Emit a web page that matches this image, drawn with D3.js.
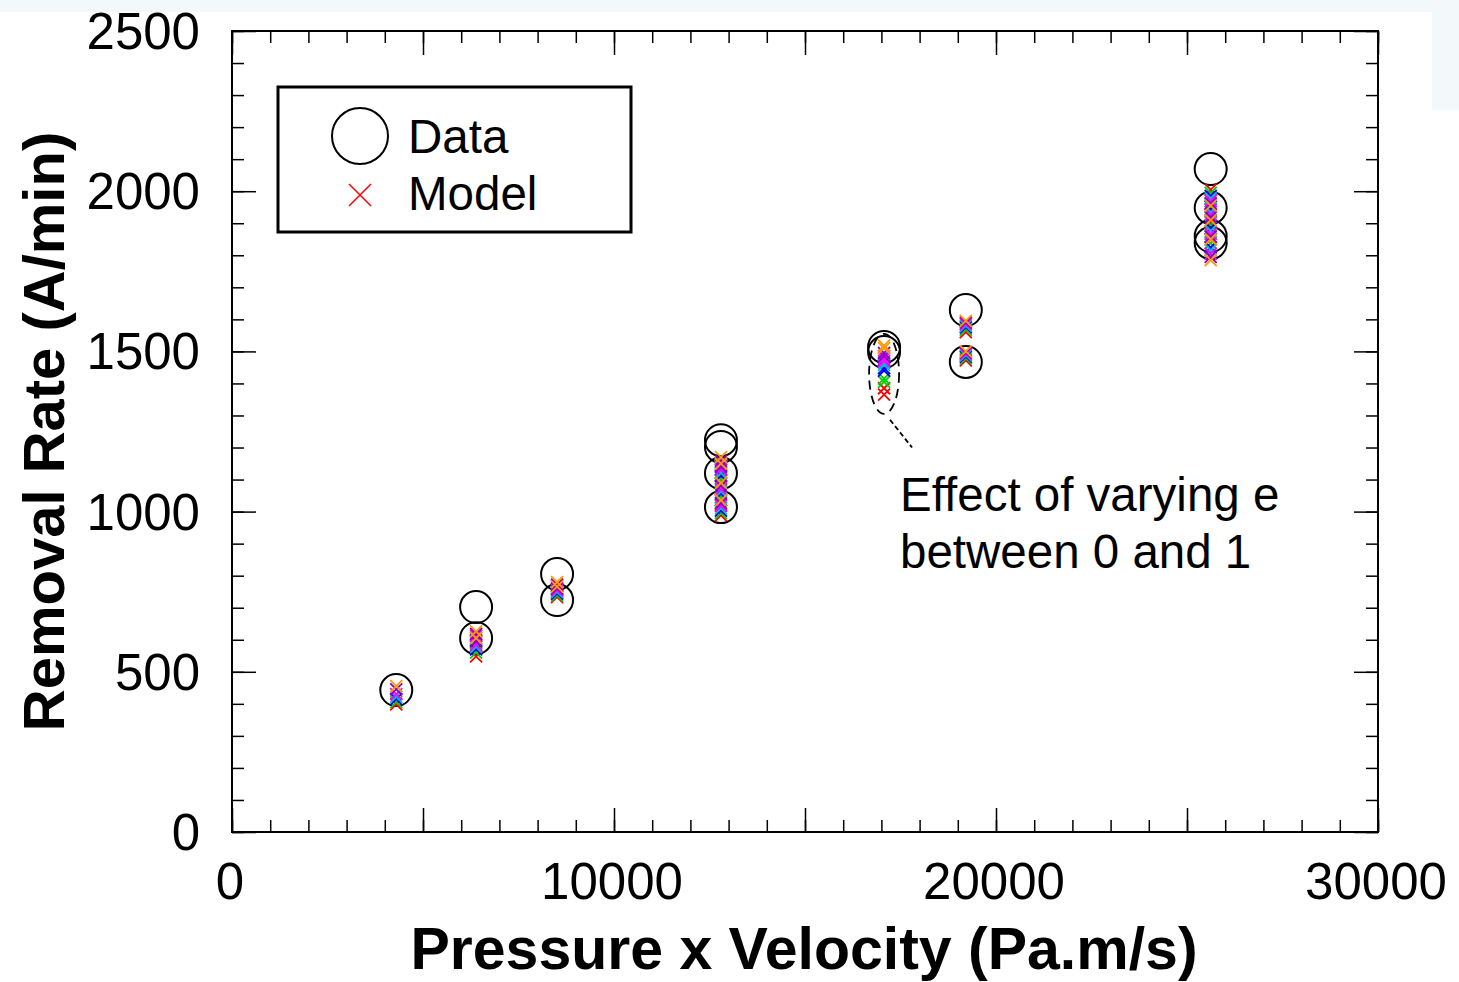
<!DOCTYPE html>
<html>
<head>
<meta charset="utf-8">
<script src="https://d3js.org/d3.v7.min.js"></script>
<style>
  body { margin: 0; background: #fff; }
  text { font-family: "Liberation Sans", Arial, sans-serif; }
</style>
</head>
<body>
<svg width="1459" height="982"></svg>
<script>
// data circles: pressure x velocity vs removal rate
const pv = [4300, 6390, 6390, 8510, 8510, 12800, 12800, 12800, 12800, 17070, 17070, 19210, 19210, 25620, 25620, 25620, 25620]
const removalRate = [443, 702, 605, 805, 724, 1223, 1202, 1120, 1014, 1514, 1498, 1629, 1467, 2069, 1948, 1860, 1838]

// model values, one array per e value (same order as pv)
const modelColors = ["#ff0000", "#00d000", "#0000ff", "#00b8d8", "#ff00ff", "#9000c8", "#ff9900"]
const modelRed     = [398, 580, 548, 745, 733, 1110, 1090, 1035, 988, 1365, 1385, 1560, 1472, 2005, 1960, 1905, 1850]
const modelGreen   = [405, 590, 560, 750, 738, 1120, 1100, 1045, 995, 1405, 1415, 1568, 1478, 1995, 1952, 1895, 1838]
const modelBlue    = [415, 598, 570, 757, 744, 1132, 1112, 1055, 1003, 1440, 1448, 1575, 1484, 1985, 1943, 1885, 1825]
const modelCyan    = [422, 605, 578, 762, 749, 1140, 1120, 1062, 1010, 1458, 1465, 1580, 1488, 1978, 1935, 1876, 1815]
const modelMagenta = [430, 612, 585, 768, 754, 1150, 1130, 1070, 1018, 1470, 1478, 1585, 1492, 1970, 1927, 1867, 1805]
const modelPurple  = [445, 618, 595, 772, 760, 1158, 1140, 1080, 1026, 1485, 1495, 1590, 1496, 1962, 1918, 1858, 1795]
const modelOrange  = [455, 626, 605, 780, 766, 1170, 1150, 1090, 1035, 1518, 1510, 1595, 1500, 1955, 1910, 1850, 1785]
const modelSeries = [modelRed, modelGreen, modelBlue, modelCyan, modelMagenta, modelPurple, modelOrange]

const xTicks = [0, 10000, 20000, 30000]
const yTicks = [0, 500, 1000, 1500, 2000, 2500]

const svg = d3.select("svg")
const pLeft = 232, pRight = 1378, pTop = 31, pBottom = 832

// slide background strip
svg.append("rect").attr("x", 0).attr("y", 0).attr("width", 1459).attr("height", 12).attr("fill", "#f3f8fa")
svg.append("rect").attr("x", 1432).attr("y", 0).attr("width", 27).attr("height", 110).attr("fill", "#f3f8fa")

const x = d3.scaleLinear().domain([0, 30000]).range([pLeft, pRight])
const y = d3.scaleLinear().domain([0, 2500]).range([pBottom, pTop])

// ticks on all four sides, pointing inward
function ticks(axis, g, major, minor) {
  g.append("g").call(axis.tickValues(minor).tickSize(-12).tickFormat(""))
  g.append("g").call(axis.tickValues(major).tickSize(-24))
}
const xMajor = d3.range(0, 30001, 5000), xMinor = d3.range(0, 30001, 1000)
const yMajor = d3.range(0, 2501, 500), yMinor = d3.range(0, 2501, 100)

const gb = svg.append("g").attr("transform", `translate(0,${pBottom})`)
ticks(d3.axisBottom(x), gb, xMajor, xMinor)
const gt = svg.append("g").attr("transform", `translate(0,${pTop})`)
ticks(d3.axisTop(x), gt, xMajor, xMinor)
const gl = svg.append("g").attr("transform", `translate(${pLeft},0)`)
ticks(d3.axisLeft(y), gl, yMajor, yMinor)
const gr = svg.append("g").attr("transform", `translate(${pRight},0)`)
ticks(d3.axisRight(y), gr, yMajor, yMinor)

svg.selectAll(".domain").remove()
svg.selectAll(".tick line").attr("stroke", "#000").attr("stroke-width", 1.5)
svg.selectAll(".tick text").remove()

// tick labels
svg.append("g").selectAll("text").data(xTicks).join("text")
  .attr("x", d => x(d) - 2).attr("y", 899)
  .attr("text-anchor", "middle").attr("font-size", 51).text(d => d)
svg.append("g").selectAll("text").data(yTicks).join("text")
  .attr("x", 200).attr("y", d => y(d) + 18)
  .attr("text-anchor", "end").attr("font-size", 51).text(d => d)

svg.append("rect")
  .attr("x", pLeft).attr("y", pTop).attr("width", pRight - pLeft).attr("height", pBottom - pTop)
  .attr("fill", "none").attr("stroke", "#000").attr("stroke-width", 2)

// axis titles
svg.append("text").attr("x", (pLeft + pRight) / 2 - 1).attr("y", 969)
  .attr("text-anchor", "middle").attr("font-size", 59).attr("font-weight", "bold")
  .text("Pressure x Velocity (Pa.m/s)")
svg.append("text").attr("transform", `translate(64,${(pTop + pBottom) / 2}) rotate(-90)`)
  .attr("text-anchor", "middle").attr("font-size", 58).attr("font-weight", "bold")
  .text("Removal Rate (A/min)")

// data circles
svg.append("g").selectAll("circle").data(pv).join("circle")
  .attr("cx", d => x(d)).attr("cy", (d, i) => y(removalRate[i])).attr("r", 16)
  .attr("fill", "none").attr("stroke", "#000").attr("stroke-width", 2)

// model crosses
const cross = (cx, cy, s) => `M${cx - s},${cy - s}L${cx + s},${cy + s}M${cx - s},${cy + s}L${cx + s},${cy - s}`
modelSeries.forEach((vals, k) => {
  svg.append("g").selectAll("path").data(vals).join("path")
    .attr("d", (d, i) => cross(x(pv[i]), y(d), 6))
    .attr("stroke", modelColors[k]).attr("stroke-width", 1.8).attr("fill", "none")
})

// annotation: dashed ellipse around the e sweep + leader
const ex = x(17070)
svg.append("ellipse").attr("cx", ex).attr("cy", y(1430)).attr("rx", 15).attr("ry", y(1305) - y(1430))
  .attr("fill", "none").attr("stroke", "#000").attr("stroke-width", 1.8).attr("stroke-dasharray", "9,6")
svg.append("line").attr("x1", ex + 6).attr("y1", y(1305) + 6).attr("x2", ex + 28).attr("y2", y(1200))
  .attr("stroke", "#000").attr("stroke-width", 1.8).attr("stroke-dasharray", "5,3")
svg.append("text").attr("x", 900).attr("y", 511).attr("font-size", 47.5).text("Effect of varying e")
svg.append("text").attr("x", 900).attr("y", 568).attr("font-size", 47.5).text("between 0 and 1")

// legend
const lg = svg.append("g")
lg.append("rect").attr("x", 278).attr("y", 87).attr("width", 353).attr("height", 145)
  .attr("fill", "#fff").attr("stroke", "#000").attr("stroke-width", 3)
lg.append("circle").attr("cx", 360).attr("cy", 136).attr("r", 28)
  .attr("fill", "none").attr("stroke", "#000").attr("stroke-width", 2)
lg.append("path").attr("d", cross(360, 195, 11)).attr("stroke", "#ff0000").attr("stroke-width", 1.5)
lg.append("text").attr("x", 408).attr("y", 153).attr("font-size", 47.5).text("Data")
lg.append("text").attr("x", 408).attr("y", 210).attr("font-size", 47.5).text("Model")
</script>
</body>
</html>
